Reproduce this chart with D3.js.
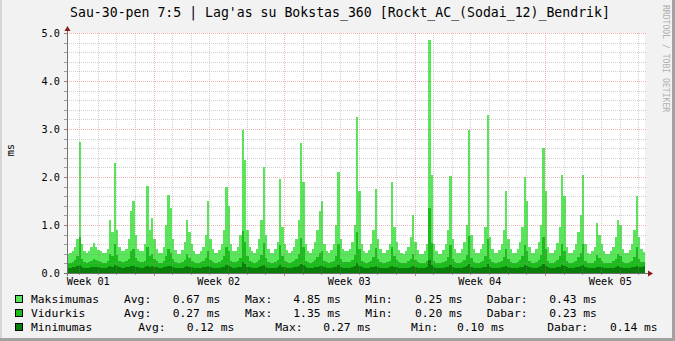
<!DOCTYPE html>
<html>
<head>
<meta charset="utf-8">
<script src="https://cdn.jsdelivr.net/npm/d3@7"></script>
<style>
body { margin: 0; background: #f2f2f2; }
svg { display: block; }
text { font-family: "DejaVu Sans Mono", monospace; }
</style>
</head>
<body>
<svg id="chart" width="675" height="341"></svg>
<script>
// 8 samples per day (3 h each), 31 days, values in ms
var maxVals = [
  0.40,0.42,0.45,0.55,0.70,2.72,0.60,0.45,
  0.42,0.45,0.55,0.62,0.55,0.48,0.45,0.42,
  0.42,0.50,1.10,0.85,2.30,0.90,0.55,0.45,
  0.45,0.50,0.70,1.30,1.50,0.80,0.50,0.45,
  0.45,0.60,1.82,0.90,1.15,0.70,0.50,0.42,
  0.42,0.55,1.00,1.62,1.35,0.70,0.48,0.40,
  0.40,0.48,0.65,1.10,0.85,0.60,0.45,0.40,
  0.40,0.45,0.55,0.80,1.50,0.70,0.50,0.42,
  0.42,0.48,0.60,0.90,1.80,1.40,0.60,0.45,
  0.45,0.55,0.80,2.98,2.35,0.90,0.55,0.45,
  0.42,0.50,0.70,1.10,2.20,0.80,0.50,0.42,
  0.42,0.50,0.65,1.95,0.95,0.60,0.48,0.42,
  0.45,0.55,0.70,1.10,2.70,1.90,0.60,0.45,
  0.42,0.50,0.65,0.90,1.30,1.50,0.60,0.45,
  0.42,0.48,0.60,1.00,2.10,0.70,0.50,0.45,
  0.45,0.50,0.65,1.00,3.25,1.70,0.60,0.45,
  0.42,0.48,0.60,0.90,1.75,0.70,0.50,0.42,
  0.42,0.48,0.60,1.90,0.95,0.65,0.48,0.42,
  0.40,0.45,0.55,0.75,1.20,0.65,0.48,0.40,
  0.40,0.45,0.60,4.85,2.05,0.60,0.45,0.40,
  0.40,0.48,0.60,0.90,2.02,0.70,0.50,0.42,
  0.42,0.50,0.65,1.00,2.98,0.80,0.50,0.42,
  0.42,0.50,0.60,0.95,3.29,0.75,0.50,0.42,
  0.42,0.48,0.60,0.90,1.70,0.70,0.50,0.42,
  0.42,0.50,0.65,0.95,2.00,1.50,0.55,0.42,
  0.42,0.50,0.65,1.00,2.60,1.70,0.55,0.42,
  0.42,0.48,0.62,0.95,2.05,1.60,0.55,0.42,
  0.42,0.48,0.60,0.85,1.20,2.05,0.60,0.42,
  0.40,0.45,0.55,1.05,0.80,0.60,0.45,0.40,
  0.40,0.45,0.55,0.75,1.10,1.00,0.50,0.42,
  0.42,0.48,0.60,0.90,1.60,0.75,0.50,0.43
];
var avgVals = [
  0.20,0.21,0.22,0.28,0.35,0.76,0.30,0.22,
  0.21,0.22,0.26,0.30,0.27,0.24,0.22,0.21,
  0.21,0.24,0.40,0.35,0.60,0.38,0.25,0.22,
  0.22,0.24,0.30,0.45,0.50,0.32,0.24,0.22,
  0.22,0.26,0.55,0.35,0.40,0.30,0.24,0.21,
  0.21,0.25,0.35,0.50,0.42,0.30,0.23,0.20,
  0.20,0.22,0.28,0.40,0.32,0.26,0.22,0.20,
  0.20,0.22,0.25,0.32,0.45,0.28,0.23,0.21,
  0.21,0.23,0.27,0.35,0.55,0.45,0.26,0.22,
  0.22,0.25,0.32,0.88,0.65,0.35,0.25,0.22,
  0.21,0.23,0.28,0.38,0.62,0.32,0.23,0.21,
  0.21,0.23,0.28,0.58,0.36,0.26,0.22,0.21,
  0.22,0.25,0.30,0.40,0.72,0.55,0.26,0.22,
  0.21,0.23,0.28,0.34,0.42,0.46,0.26,0.22,
  0.21,0.22,0.26,0.36,0.60,0.30,0.23,0.22,
  0.22,0.23,0.28,0.38,0.85,0.50,0.26,0.22,
  0.21,0.22,0.26,0.34,0.52,0.30,0.23,0.21,
  0.21,0.22,0.26,0.55,0.36,0.27,0.22,0.21,
  0.20,0.21,0.24,0.30,0.40,0.27,0.22,0.20,
  0.20,0.21,0.26,1.35,0.62,0.26,0.21,0.20,
  0.20,0.22,0.26,0.34,0.58,0.30,0.23,0.21,
  0.21,0.23,0.28,0.38,0.77,0.32,0.23,0.21,
  0.21,0.23,0.26,0.36,0.70,0.30,0.23,0.21,
  0.21,0.22,0.26,0.34,0.50,0.30,0.23,0.21,
  0.21,0.23,0.28,0.36,0.58,0.45,0.25,0.21,
  0.21,0.23,0.28,0.38,0.75,0.50,0.25,0.21,
  0.21,0.22,0.27,0.36,0.60,0.45,0.25,0.21,
  0.21,0.22,0.26,0.33,0.42,0.60,0.26,0.21,
  0.20,0.21,0.24,0.38,0.32,0.26,0.21,0.20,
  0.20,0.21,0.24,0.30,0.40,0.36,0.22,0.21,
  0.21,0.22,0.26,0.34,0.55,0.30,0.23,0.23
];
var minVals = [
  0.11,0.11,0.12,0.12,0.14,0.16,0.12,0.11,
  0.11,0.11,0.12,0.13,0.12,0.12,0.11,0.11,
  0.11,0.12,0.14,0.13,0.17,0.14,0.12,0.11,
  0.11,0.12,0.12,0.14,0.15,0.13,0.12,0.11,
  0.11,0.12,0.15,0.13,0.14,0.12,0.12,0.11,
  0.11,0.12,0.13,0.15,0.14,0.12,0.11,0.10,
  0.10,0.11,0.12,0.14,0.13,0.12,0.11,0.10,
  0.10,0.11,0.12,0.13,0.15,0.12,0.11,0.11,
  0.11,0.11,0.12,0.13,0.16,0.14,0.12,0.11,
  0.11,0.12,0.13,0.22,0.18,0.13,0.12,0.11,
  0.11,0.11,0.12,0.14,0.17,0.13,0.11,0.11,
  0.11,0.11,0.12,0.16,0.13,0.12,0.11,0.11,
  0.11,0.12,0.13,0.14,0.19,0.16,0.12,0.11,
  0.11,0.11,0.12,0.13,0.14,0.15,0.12,0.11,
  0.11,0.11,0.12,0.13,0.16,0.12,0.11,0.11,
  0.11,0.11,0.12,0.14,0.21,0.15,0.12,0.11,
  0.11,0.11,0.12,0.13,0.15,0.12,0.11,0.11,
  0.11,0.11,0.12,0.15,0.13,0.12,0.11,0.11,
  0.10,0.11,0.11,0.12,0.14,0.12,0.11,0.10,
  0.10,0.11,0.12,0.27,0.17,0.12,0.11,0.10,
  0.10,0.11,0.12,0.13,0.16,0.12,0.11,0.11,
  0.11,0.11,0.12,0.14,0.19,0.13,0.11,0.11,
  0.11,0.11,0.12,0.13,0.18,0.12,0.11,0.11,
  0.11,0.11,0.12,0.13,0.15,0.12,0.11,0.11,
  0.11,0.11,0.12,0.13,0.16,0.14,0.12,0.11,
  0.11,0.11,0.12,0.14,0.18,0.15,0.12,0.11,
  0.11,0.11,0.12,0.13,0.16,0.14,0.12,0.11,
  0.11,0.11,0.12,0.13,0.14,0.16,0.12,0.11,
  0.10,0.11,0.11,0.13,0.12,0.12,0.11,0.10,
  0.10,0.11,0.11,0.12,0.14,0.13,0.11,0.11,
  0.11,0.11,0.12,0.13,0.15,0.12,0.12,0.14
];

var samplesPerDay = 8;
var spanDays = 31;
var weekLabels = ["Week 01", "Week 02", "Week 03", "Week 04", "Week 05"];
var yTicks = [0, 1, 2, 3, 4, 5];

var titleText = "Sau-30-pen 7:5 | Lag'as su Bokstas_360 [Rockt_AC_(Sodai_12)_Bendrik]";
var unitText = "ms";
var legendNames = ["Maksimumas", "Vidurkis", "Minimumas"];
var legendColors = ["#5ae65a", "#1cbc1c", "#0a7d0a"];
var statAvg = ["0.67", "0.27", "0.12"];
var statMax = ["4.85", "1.35", "0.27"];
var statMin = ["0.25", "0.20", "0.10"];
var statNow = ["0.43", "0.23", "0.14"];

var plotL = 67, plotR = 645, plotT = 33, plotB = 273;

var svg = d3.select("#chart");

// frame
svg.append("rect").attr("width", 675).attr("height", 341).attr("fill", "#f2f2f2");
svg.append("rect").attr("x", 0).attr("y", 0).attr("width", 2).attr("height", 341).attr("fill", "#d6d6d6");
svg.append("rect").attr("x", 672).attr("y", 0).attr("width", 3).attr("height", 341).attr("fill", "#a2a2a2");
svg.append("rect").attr("x", 0).attr("y", 338).attr("width", 675).attr("height", 3).attr("fill", "#a2a2a2");

var x = d3.scaleLinear().domain([0, spanDays]).range([plotL, plotR]);
var y = d3.scaleLinear().domain([0, 5]).range([plotB, plotT]);

svg.append("rect")
  .attr("x", plotL).attr("y", plotT)
  .attr("width", plotR - plotL).attr("height", plotB - plotT)
  .attr("fill", "#ffffff");

function series(vals)
{
  var pts = vals.map(function(v, i) { return [i / samplesPerDay, v]; });
  pts.push([vals.length / samplesPerDay, vals[vals.length - 1]]);
  return pts;
}

var area = d3.area()
  .curve(d3.curveStepAfter)
  .x(function(d) { return x(d[0]); })
  .y0(y(0))
  .y1(function(d) { return y(d[1]); });

var gData = svg.append("g").attr("shape-rendering", "crispEdges");
[maxVals, avgVals, minVals].forEach(function(vals, k)
{
  gData.append("path")
    .attr("d", area(series(vals)))
    .attr("fill", legendColors[k]);
});

// grid, drawn over the areas like rrdtool does
var gGrid = svg.append("g").attr("shape-rendering", "crispEdges");
var minorY = d3.range(0, 5.001, 0.2).filter(function(v) { return Math.abs(v - Math.round(v)) > 0.01; });
var dayLines = d3.range(0.64, spanDays, 1);
var weekLines = d3.range(4.64, spanDays, 7);

minorY.forEach(function(v)
{
  var yy = Math.round(y(v)) + 0.5;
  gGrid.append("line").attr("x1", plotL).attr("x2", plotR + 2).attr("y1", yy).attr("y2", yy)
    .attr("stroke", "rgba(140,140,140,0.4)").attr("stroke-dasharray", "1,1");
  gGrid.append("line").attr("x1", plotL - 3).attr("x2", plotL).attr("y1", yy).attr("y2", yy)
    .attr("stroke", "#a0a0a0");
});
dayLines.forEach(function(d)
{
  if (weekLines.some(function(w) { return Math.abs(w - d) < 0.01; })) return;
  var xx = Math.round(x(d)) + 0.5;
  gGrid.append("line").attr("x1", xx).attr("x2", xx).attr("y1", plotT).attr("y2", plotB)
    .attr("stroke", "rgba(140,140,140,0.4)").attr("stroke-dasharray", "1,1");
  gGrid.append("line").attr("x1", xx).attr("x2", xx).attr("y1", plotB).attr("y2", plotB + 2)
    .attr("stroke", "#a0a0a0");
});
yTicks.forEach(function(v)
{
  var yy = Math.round(y(v)) + 0.5;
  gGrid.append("line").attr("x1", plotL).attr("x2", plotR + 2).attr("y1", yy).attr("y2", yy)
    .attr("stroke", "rgba(225,90,90,0.45)").attr("stroke-dasharray", "1,1");
  gGrid.append("line").attr("x1", plotL - 3).attr("x2", plotL).attr("y1", yy).attr("y2", yy)
    .attr("stroke", "#c07070");
});
weekLines.forEach(function(d)
{
  var xx = Math.round(x(d)) + 0.5;
  gGrid.append("line").attr("x1", xx).attr("x2", xx).attr("y1", plotT).attr("y2", plotB)
    .attr("stroke", "rgba(225,90,90,0.45)").attr("stroke-dasharray", "1,1");
  gGrid.append("line").attr("x1", xx).attr("x2", xx).attr("y1", plotB).attr("y2", plotB + 3)
    .attr("stroke", "#d08080");
});

// axes
svg.append("line").attr("x1", plotL - 3).attr("x2", plotR + 4).attr("y1", plotB + 0.5).attr("y2", plotB + 0.5)
  .attr("stroke", "#707070").attr("shape-rendering", "crispEdges");
svg.append("line").attr("x1", plotL + 0.5).attr("x2", plotL + 0.5).attr("y1", plotB + 3).attr("y2", plotT - 4)
  .attr("stroke", "#707070").attr("shape-rendering", "crispEdges");
svg.append("path").attr("d", "M" + (plotR + 3) + "," + (plotB - 2.5) + "L" + (plotR + 8) + "," + (plotB + 0.5) + "L" + (plotR + 3) + "," + (plotB + 3.5) + "Z")
  .attr("fill", "#8b1a1a");
svg.append("path").attr("d", "M" + (plotL - 2.5) + "," + (plotT - 2) + "L" + (plotL + 0.5) + "," + (plotT - 7) + "L" + (plotL + 3.5) + "," + (plotT - 2) + "Z")
  .attr("fill", "#8b1a1a");

// axis labels
svg.selectAll(".ylab").data(yTicks).enter().append("text")
  .attr("x", plotL - 7)
  .attr("y", function(v) { return y(v) + 3.5; })
  .attr("text-anchor", "end")
  .attr("font-size", "10.2px")
  .attr("fill", "#000")
  .text(function(v) { return v.toFixed(1); });

svg.selectAll(".xlab").data(weekLabels).enter().append("text")
  .attr("x", function(d, i) { return x(weekLines[0] - 3.5 + 7 * i); })
  .attr("y", plotB + 12)
  .attr("text-anchor", "middle")
  .attr("font-size", "10.2px")
  .attr("fill", "#000")
  .text(function(d) { return d; });

svg.append("text")
  .attr("transform", "translate(14,150) rotate(-90)")
  .attr("text-anchor", "middle")
  .attr("font-size", "10.2px")
  .attr("fill", "#000")
  .text(unitText);

svg.append("text")
  .attr("x", 340).attr("y", 17)
  .attr("text-anchor", "middle")
  .attr("font-size", "13.2px")
  .attr("fill", "#000")
  .text(titleText);

svg.append("text")
  .attr("transform", "translate(663,5) rotate(90)")
  .attr("font-size", "8.1px")
  .attr("fill", "#b0b0b0")
  .text("RRDTOOL / TOBI OETIKER");

// legend
var rowBase = [303, 317, 331];
var colsA = [124, 172.7, 245, 293.3, 365.3, 415, 486.7, 549.3];
var colsB = [138.3, 186.7, 275.3, 323.3, 411, 457, 547.3, 610];
legendNames.forEach(function(name, i)
{
  var g = svg.append("g");
  var cols = i < 2 ? colsA : colsB;
  g.append("rect").attr("x", 15.5).attr("y", rowBase[i] - 7.5).attr("width", 7).attr("height", 7)
    .attr("fill", legendColors[i]).attr("stroke", "#000").attr("shape-rendering", "crispEdges");
  var parts = [name, "Avg:", statAvg[i] + " ms", "Max:", statMax[i] + " ms", "Min:", statMin[i] + " ms", "Dabar:", statNow[i] + " ms"];
  var xs = [31].concat(cols);
  parts.forEach(function(p, j)
  {
    g.append("text")
      .attr("x", xs[j]).attr("y", rowBase[i])
      .attr("font-size", "11.3px")
      .attr("fill", "#000")
      .attr("xml:space", "preserve")
      .text(p);
  });
});
</script>
</body>
</html>
